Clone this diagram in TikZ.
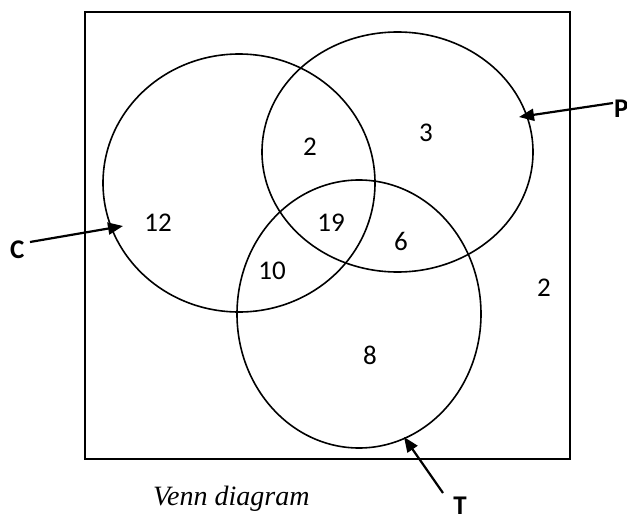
\documentclass[tikz,border=0pt]{standalone}
\usepackage{fontspec}
\setmainfont{Liberation Serif}
\newfontfamily\carl{Carlito}
\usetikzlibrary{arrows.meta}
\begin{document}
\begin{tikzpicture}[x=1pt,y=-1pt,
  setline/.style={line width=1.6pt},
  num/.style={font=\carl\fontsize{27}{27}\selectfont, inner sep=0pt},
  lab/.style={font=\carl\bfseries\fontsize{27}{27}\selectfont, inner sep=0pt},
  pointer/.style={line width=2.2pt, -{Triangle[length=15pt,width=12pt]}}]
\useasboundingbox (0,0) rectangle (627,514);
\draw[line width=2pt] (85,12) rectangle (570,459);
\draw[setline] (239,183) ellipse [x radius=136, y radius=129];
\draw[setline] (397.5,152) ellipse [x radius=135.5, y radius=120];
\draw[setline] (359,314) ellipse [x radius=122, y radius=134];
\node[num] (n1) at (310,147) {2};
\node[num] (n2) at (426,133) {3};
\node[num] (n3) at (158,223) {12};
\node[num] (n4) at (331,223) {19};
\node[num] (n5) at (401,241) {6};
\node[num] (n6) at (272,271) {10};
\node[num] (n7) at (544,288) {2};
\node[num] (n8) at (370,355) {8};
\node[lab, anchor=west] (C) at (10,250) {C};
\node[lab, anchor=west] (P) at (614,109) {P};
\node[lab, anchor=north] (T) at (460,497) {T};
\coordinate (ct) at (123,226);
\coordinate (pt) at (519,117);
\coordinate (tt) at (404,437);
\coordinate (cs) at (30,242);
\coordinate (ps) at (613,103);
\coordinate (ts) at (443,493);
\draw[pointer] (cs) -- (ct);
\draw[pointer] (ps) -- (pt);
\draw[pointer] (ts) -- (tt);
\node[font=\itshape\fontsize{28}{28}\selectfont, anchor=base west, inner sep=0pt] (cap) at (153,505) {Venn diagram};
\end{tikzpicture}
\end{document}
